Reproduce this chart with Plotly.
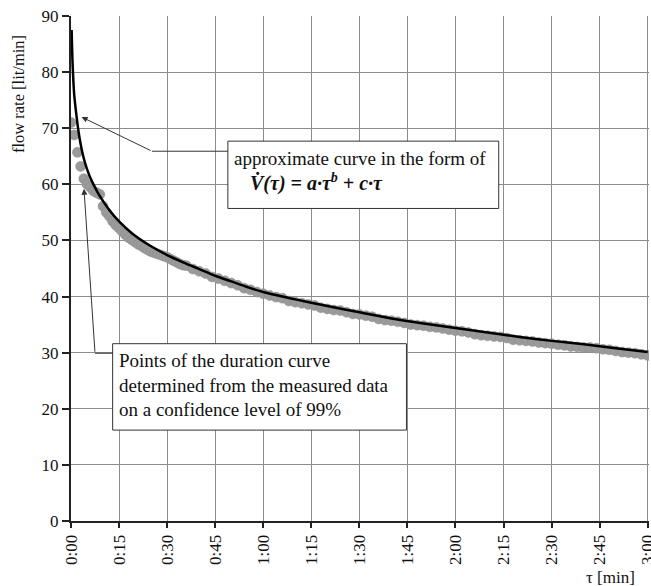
import plotly.graph_objects as go

# ---- data (time in seconds, flow rate in lit/min) ----
tick_vals = [0, 15, 30, 45, 60, 75, 90, 105, 120, 135, 150, 165, 180]
tick_text = ["0:00", "0:15", "0:30", "0:45", "1:00", "1:15", "1:30", "1:45",
             "2:00", "2:15", "2:30", "2:45", "3:00"]

dot_t = list(range(0, 36)) + list(range(36, 181, 2))
dot_v = [71.0, 68.8, 65.7, 63.2, 61.0, 60.0, 59.5, 58.8, 58.5, 58.2,
         56.1, 55.0, 54.3, 53.4, 52.7, 52.2, 51.6, 51.0, 50.5, 50.1,
         49.7, 49.3, 49.0, 48.6, 48.3, 48.0, 47.8, 47.6, 47.4, 47.2,
         47.0, 46.7, 46.4, 46.1, 45.8, 45.6,
         45.5, 44.9, 44.5, 44.1, 43.5, 43.2, 42.8, 42.4, 42.0, 41.5,
         41.2, 40.8, 40.5, 40.2, 39.9, 39.7, 39.2, 39.0, 38.8, 38.6,
         38.4, 38.0, 37.8, 37.6, 37.5, 37.2, 36.9, 36.8, 36.6, 36.4,
         36.0, 35.8, 35.7, 35.5, 35.3, 35.0, 34.9, 34.8, 34.6, 34.5,
         34.3, 34.1, 33.9, 33.8, 33.6, 33.3, 33.1, 33.0, 32.9, 32.8,
         32.6, 32.3, 32.2, 32.1, 32.0, 31.8, 31.7, 31.6, 31.4, 31.3,
         31.1, 31.0, 30.9, 30.9, 30.8, 30.6, 30.5, 30.3, 30.1, 30.0,
         29.9, 29.7, 29.5]

curve_t = [0.2, 0.5, 1.0, 1.7, 2.3, 3.0, 4.0, 5.0, 6.0, 7.0, 9.0, 12.0, 15.0,
           19.0, 24.6, 30, 35, 40, 45, 50, 55, 60, 70, 80, 90, 100, 110, 120,
           130, 140, 150, 160, 170, 180]
curve_v = [87.5, 81.5, 76.0, 72.3, 69.6, 67.2, 64.6, 62.7, 61.2, 60.0, 57.9,
           55.4, 53.4, 51.3, 49.1, 47.4, 46.1, 44.9, 43.7, 42.7, 41.7, 40.8,
           39.5, 38.3, 37.2, 36.1, 35.2, 34.4, 33.6, 32.8, 32.1, 31.5, 30.8,
           30.1]

FONT = "Liberation Serif"
BLACK = "#111111"

fig = go.Figure()
fig.add_trace(go.Scatter(x=dot_t, y=dot_v, mode="markers",
                         marker=dict(size=10, color="#9a9a9a",
                                     line=dict(color="#8a8a8a", width=0.5)),
                         showlegend=False, hoverinfo="skip"))
fig.add_trace(go.Scatter(x=curve_t, y=curve_v, mode="lines",
                         line=dict(color="black", width=2.5, shape="spline", smoothing=0.8),
                         showlegend=False, hoverinfo="skip"))

axis_common = dict(showgrid=True, gridcolor="#8c8c8c", gridwidth=1, zeroline=False,
                   automargin=False)
XR = [0, 180.4]

fig.update_layout(
    width=651, height=586,
    margin=dict(l=71, r=2, t=16, b=65),
    paper_bgcolor="white", plot_bgcolor="white",
    font=dict(family=FONT, size=17, color=BLACK),
    xaxis=dict(range=XR, tickvals=tick_vals, ticktext=tick_text,
               tickangle=-90, ticks="outside", ticklen=5, tickwidth=1.5,
               tickcolor="#222", showline=True, linecolor="#222", linewidth=2,
               ticklabeloverflow="allow",
               tickfont=dict(family=FONT, size=17, color=BLACK), **axis_common),
    yaxis=dict(range=[0, 90], dtick=10, ticks="outside", ticklen=7, tickwidth=1.5,
               tickcolor="#222", showline=True, linecolor="#222", linewidth=2,
               tickfont=dict(family=FONT, size=17, color=BLACK), **axis_common),
    xaxis2=dict(overlaying="x", range=XR, tickvals=tick_vals, automargin=False,
                showticklabels=False, ticks="inside", ticklen=5, tickwidth=1.5,
                tickcolor="#222", showgrid=False, zeroline=False, showline=False,
                side="bottom"),
    yaxis2=dict(overlaying="y", range=[0, 90], dtick=10, showticklabels=False,
                automargin=False,
                ticks="inside", ticklen=6, tickwidth=1.5, tickcolor="#222",
                showgrid=False, zeroline=False, showline=False, side="left"),
)

# annotation boxes
fig.add_shape(type="rect", xref="x", yref="y", x0=48.96, x1=133.5, y0=55.7, y1=67.7,
              line=dict(color="#333", width=1), fillcolor="white", layer="above")
fig.add_shape(type="rect", xref="x", yref="y", x0=13.0, x1=104.7, y0=16.2, y1=31.6,
              line=dict(color="#333", width=1), fillcolor="white", layer="above")

# leader lines (horizontal parts)
fig.add_shape(type="line", xref="x", yref="y", x0=25.3, x1=48.96, y0=65.9, y1=65.9,
              line=dict(color="#333", width=1))
fig.add_shape(type="line", xref="x", yref="y", x0=7.5, x1=13.0, y0=29.9, y1=29.9,
              line=dict(color="#333", width=1))

# arrows
fig.add_annotation(x=3.3, y=72.0, ax=25.3, ay=65.9, xref="x", yref="y",
                   axref="x", ayref="y", text="", showarrow=True,
                   arrowhead=2, arrowsize=1.2, arrowwidth=1, arrowcolor="#333")
fig.add_annotation(x=4.05, y=59.2, ax=7.5, ay=29.9, xref="x", yref="y",
                   axref="x", ayref="y", text="", showarrow=True,
                   arrowhead=2, arrowsize=1.2, arrowwidth=1, arrowcolor="#333")

# texts
fig.add_annotation(x=50.2, y=64.6, xref="x", yref="y", xanchor="left", yanchor="middle",
                   text="approximate curve in the form of", showarrow=False,
                   font=dict(family=FONT, size=19, color=BLACK))
fig.add_annotation(x=55.2, y=60.4, xref="x", yref="y", xanchor="left", yanchor="middle",
                   text="<b><i>V\u0307(τ) = a·τ<sup>b</sup> + c·τ</i></b>", showarrow=False,
                   font=dict(family=FONT, size=20, color=BLACK))
fig.add_annotation(x=14.3, y=24.2, xref="x", yref="y", xanchor="left", yanchor="middle",
                   align="left",
                   text="Points of the duration curve<br>determined from the measured data<br>on a confidence level of 99%",
                   showarrow=False, font=dict(family=FONT, size=19, color=BLACK))

# axis titles
fig.add_annotation(x=-0.092, y=0.845, xref="paper", yref="paper", textangle=-90,
                   text="flow rate [lit/min]", showarrow=False,
                   xanchor="center", yanchor="middle",
                   font=dict(family=FONT, size=16.5, color=BLACK))
fig.add_annotation(x=0.979, y=-0.111, xref="paper", yref="paper",
                   text="τ [min]", showarrow=False,
                   xanchor="right", yanchor="middle",
                   font=dict(family=FONT, size=17, color=BLACK))

fig.write_html("out.html")
